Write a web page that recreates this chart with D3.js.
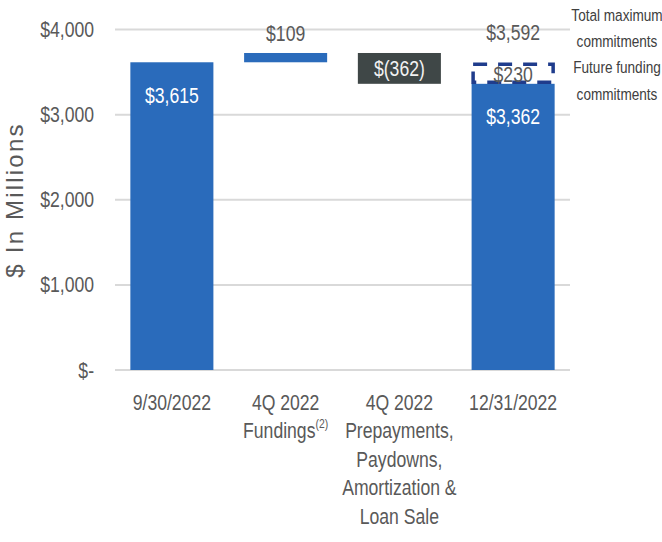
<!DOCTYPE html>
<html>
<head>
<meta charset="utf-8">
<script src="https://cdn.jsdelivr.net/npm/d3@7/dist/d3.min.js"></script>
<style>
  html, body { margin: 0; padding: 0; background: #ffffff; }
  svg { display: block; }
  text { font-family: "Liberation Sans", Arial, sans-serif; }
</style>
</head>
<body>
<svg id="chart" width="662" height="542"></svg>
<script>
// Loan portfolio roll-forward, $ in millions
const categories = ["9/30/2022", "4Q 2022 Fundings", "4Q 2022 Prepayments", "12/31/2022"];
const categoryLines = [
  ["9/30/2022"],
  ["4Q 2022", "Fundings"],
  ["4Q 2022", "Prepayments,", "Paydowns,", "Amortization &", "Loan Sale"],
  ["12/31/2022"]
];
const startBalance = 3615;
const fundings = 109;
const repayments = -362;
const endBalance = 3362;
const futureFunding = 230;
const totalCommitments = 3592;
const yTicks = [0, 1000, 2000, 3000, 4000];
const yTickLabels = ["$-", "$1,000", "$2,000", "$3,000", "$4,000"];
const legendLines = ["Total maximum", "commitments", "Future funding", "commitments"];

const BLUE = "#2a6bbb", DARK = "#3f4747", NAVY = "#1f3c8c", GRID = "#d9d9d9", TEXT = "#595959";
const SQUEEZE = 0.8; // horizontal condensing of the label face

const svg = d3.select("#chart");

const x = d3.scaleBand().domain(categories).range([115, 570]).paddingInner(0.27).paddingOuter(0.135);
const y = d3.scaleLinear().domain([0, 4000]).range([370, 29.5]);

// condensed text helper: anchors at (px, py), squeezes horizontally
function label(parent, px, py, lines, opts) {
  const g = parent.append("g").attr("transform", `translate(${px},${py}) scale(${SQUEEZE},1)`);
  const t = g.append("text")
    .attr("text-anchor", opts.anchor || "middle")
    .attr("font-size", opts.size || 22)
    .attr("fill", opts.fill || TEXT);
  lines.forEach((ln, j) => {
    t.append("tspan").attr("x", 0).attr("y", j * (opts.lh || 0)).attr("dy", opts.dy || 0).text(ln);
  });
  return t;
}

// gridlines
svg.append("g").selectAll("line").data(yTicks).join("line")
  .attr("x1", 115).attr("x2", 570)
  .attr("y1", d => y(d)).attr("y2", d => y(d))
  .attr("stroke", GRID).attr("stroke-width", 2);

// y axis tick labels (axis generator for positions, condensed text)
const yAxis = d3.axisLeft(y).tickValues(yTicks)
  .tickFormat((d, i) => yTickLabels[i]).tickSize(0).tickPadding(0);
const yg = svg.append("g").attr("transform", "translate(94,0)").call(yAxis);
yg.select(".domain").remove();
yg.selectAll(".tick text")
  .attr("font-family", null).attr("font-size", 22).attr("fill", TEXT)
  .attr("transform", `scale(${SQUEEZE},1)`);

// y axis title
svg.append("text")
  .attr("transform", "translate(23,200) rotate(-90)")
  .attr("text-anchor", "middle")
  .attr("font-size", 24).attr("letter-spacing", 2.2)
  .attr("fill", TEXT)
  .text("$ In Millions");

// waterfall segments
const afterFund = startBalance + fundings;
const segments = [
  { cat: categories[0], lo: 0, hi: startBalance, fill: BLUE },
  { cat: categories[1], lo: startBalance, hi: afterFund, fill: BLUE },
  { cat: categories[2], lo: afterFund + repayments, hi: afterFund, fill: DARK },
  { cat: categories[3], lo: 0, hi: endBalance, fill: BLUE }
];
svg.append("g").selectAll("rect").data(segments).join("rect")
  .attr("x", d => x(d.cat)).attr("width", x.bandwidth())
  .attr("y", d => y(d.hi)).attr("height", d => y(d.lo) - y(d.hi))
  .attr("fill", d => d.fill);

// future funding commitments (dashed outline)
svg.append("rect")
  .attr("x", x(categories[3]) + 1.5).attr("width", x.bandwidth() - 3)
  .attr("y", y(endBalance + futureFunding)).attr("height", y(endBalance) - y(endBalance + futureFunding) - 1.5)
  .attr("fill", "none").attr("stroke", NAVY).attr("stroke-width", 3.5)
  .attr("stroke-dasharray", "14,11");

// value labels
const cx = c => x(c) + x.bandwidth() / 2;
const fmt = v => "$" + d3.format(",")(v);
const valueLabels = [
  { c: categories[0], t: fmt(startBalance), yv: y(startBalance) + 33, fill: "#ffffff" },
  { c: categories[1], t: fmt(fundings), yv: 33, fill: TEXT },
  { c: categories[2], t: "$(" + Math.abs(repayments) + ")", yv: (y(afterFund) + y(afterFund + repayments)) / 2, fill: "#f2f2f2" },
  { c: categories[3], t: fmt(totalCommitments), yv: 32, fill: TEXT },
  { c: categories[3], t: fmt(futureFunding), yv: (y(endBalance) + y(endBalance + futureFunding)) / 2, fill: TEXT },
  { c: categories[3], t: fmt(endBalance), yv: y(endBalance) + 32, fill: "#ffffff" }
];
const vg = svg.append("g");
valueLabels.forEach(d => label(vg, cx(d.c), d.yv, [d.t], { fill: d.fill, dy: "0.36em" }));

// category labels
const catG = svg.append("g");
categoryLines.forEach((lines, i) => {
  const t = label(catG, cx(categories[i]), 410, lines, { lh: 28.5 });
  if (i === 1) {
    t.select("tspan:last-child").append("tspan")
      .attr("font-size", 13).attr("dy", -10).text("(2)");
  }
});

// legend text at right
const lg = svg.append("g");
legendLines.forEach((ln, i) =>
  label(lg, 617, [15, 41, 67, 94][i], [ln], { size: 17, fill: "#404040", dy: "0.36em" }));
</script>
</body>
</html>
